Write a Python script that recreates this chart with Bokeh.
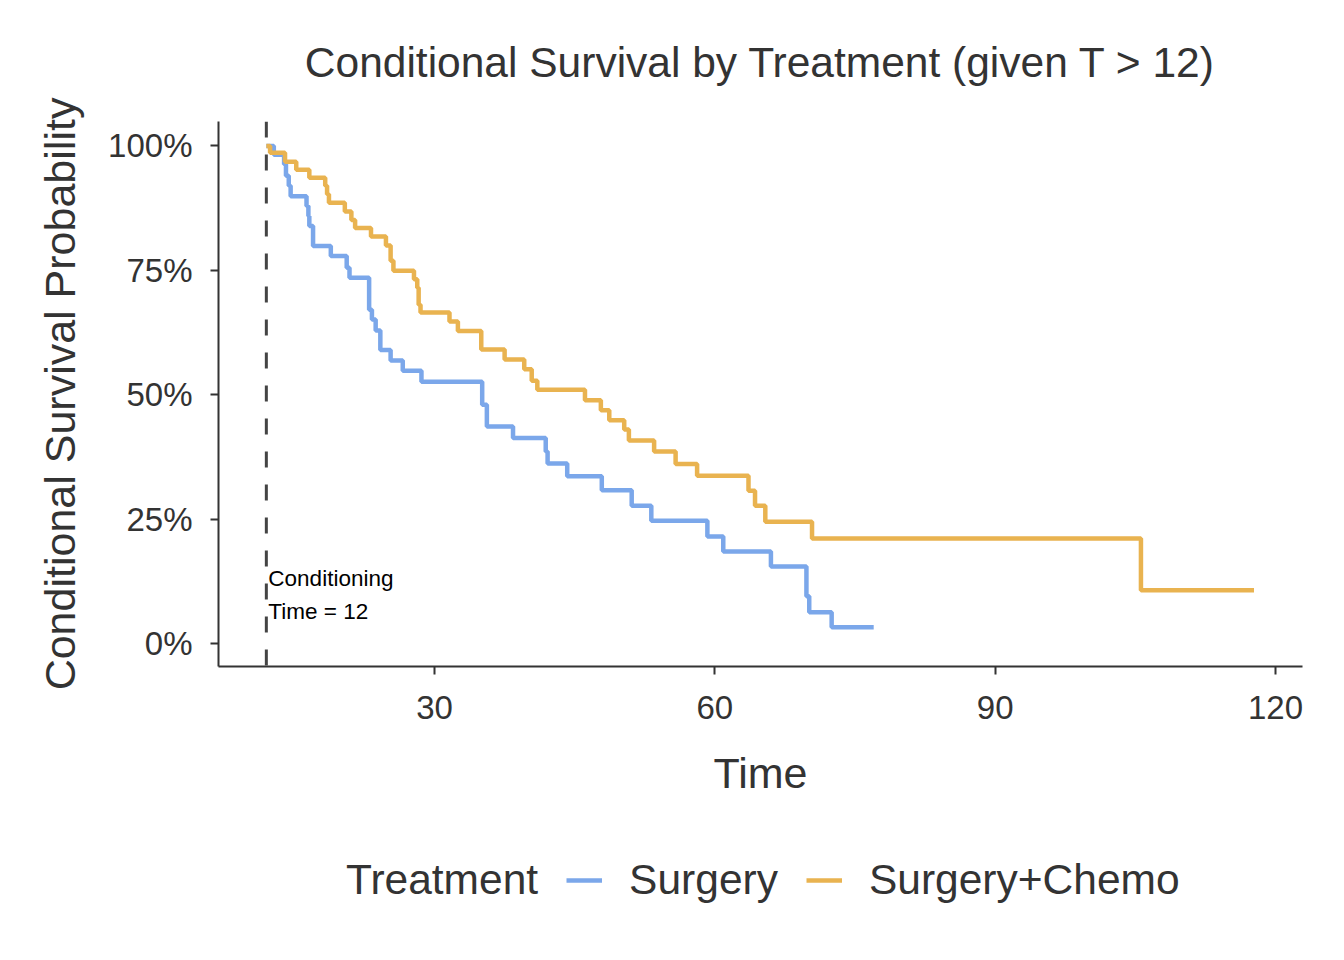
from bokeh.plotting import figure
from bokeh.layouts import column
from bokeh.models import (Range1d, FixedTicker, Span, Legend, LegendItem,
                          ColumnDataSource, Label)
from bokeh.embed import file_html
from bokeh.resources import INLINE

# ---------------- data ----------------
cond_time = 12

surg_times = [12, 12.8, 13.9, 14.1, 14.4, 14.6, 16.3, 16.5, 16.6, 17.0, 18.9,
              20.6, 20.9, 23.0, 23.3, 23.7, 24.2, 25.3, 26.6, 28.6, 35.1,
              35.6, 38.4, 41.9, 42.1, 44.2, 47.9, 51.1, 53.2, 59.2, 60.9,
              66.0, 69.8, 70.1, 72.5, 77.0]
surg_surv = [1.000, 0.982, 0.963, 0.940, 0.920, 0.899, 0.879, 0.859, 0.839,
             0.799, 0.779, 0.755, 0.735, 0.671, 0.651, 0.629, 0.590, 0.569,
             0.548, 0.526, 0.480, 0.436, 0.413, 0.386, 0.362, 0.336, 0.308,
             0.277, 0.247, 0.215, 0.185, 0.155, 0.095, 0.063, 0.033, 0.033]

chemo_times = [12, 12.4, 14.0, 15.2, 16.6, 18.3, 18.5, 18.7, 20.4, 21.1, 21.5,
               23.2, 24.8, 25.3, 25.6, 27.8, 28.15, 28.3, 28.5, 31.6, 32.5,
               35.0, 37.5, 39.6, 40.4, 41.0, 46.1, 47.8, 48.7, 50.3, 50.8,
               53.5, 55.8, 58.1, 63.6, 64.3, 65.4, 70.4, 105.6, 117.7]
chemo_surv = [1.000, 0.986, 0.968, 0.952, 0.936, 0.920, 0.903, 0.886, 0.868,
              0.851, 0.835, 0.818, 0.800, 0.769, 0.749, 0.732, 0.715, 0.681,
              0.665, 0.647, 0.628, 0.591, 0.571, 0.551, 0.528, 0.510, 0.489,
              0.469, 0.449, 0.430, 0.408, 0.386, 0.361, 0.337, 0.307, 0.277,
              0.245, 0.211, 0.107, 0.107]

x_ticks = [30, 60, 90, 120]
y_ticks = [0, 0.25, 0.5, 0.75, 1.0]
y_tick_labels = {0: "0%", 0.25: "25%", 0.5: "50%", 0.75: "75%", 1.0: "100%"}

legend_title = "Treatment"
series_names = ["Surgery", "Surgery+Chemo"]
series_colors = ["#7BA7EA", "#E9B350"]

annot_lines = ["Conditioning", "Time = 12"]
annot_y = [0.131, 0.064]

# ---------------- main figure ----------------
FONT = "Liberation Sans"
TXT = "#333333"
LINE_W = 4.5

p = figure(frame_width=1084, frame_height=545, output_backend="svg",
           toolbar_location=None,
           x_range=Range1d(6.88, 122.89), y_range=Range1d(-0.046, 1.049),
           min_border_left=218, min_border_right=34, min_border_top=120,
           min_border_bottom=140,
           title="Conditional Survival by Treatment (given T > 12)",
           x_axis_label="Time", y_axis_label="Conditional Survival Probability")
p.outline_line_color = None
p.grid.visible = False
p.background_fill_color = "white"
p.border_fill_color = "white"

p.title.text_font = FONT
p.title.text_font_size = "42.5px"
p.title.text_font_style = "normal"
p.title.text_color = TXT
p.title.align = "center"
p.title.standoff = 72

for ax in (p.xaxis[0], p.yaxis[0]):
    ax.axis_line_color = TXT
    ax.axis_line_width = 2
    ax.major_tick_line_color = TXT
    ax.major_tick_line_width = 2
    ax.major_tick_out = 8
    ax.major_tick_in = 0
    ax.minor_tick_line_color = None
    ax.major_label_text_font = FONT
    ax.major_label_text_font_size = "33px"
    ax.major_label_text_color = TXT
    ax.axis_label_text_font = FONT
    ax.axis_label_text_font_size = "43px"
    ax.axis_label_text_font_style = "normal"
    ax.axis_label_text_color = TXT

p.xaxis[0].ticker = FixedTicker(ticks=x_ticks)
p.yaxis[0].ticker = FixedTicker(ticks=y_ticks)
p.yaxis[0].major_label_overrides = y_tick_labels
p.xaxis[0].major_label_standoff = 21
p.yaxis[0].major_label_standoff = 18
p.xaxis[0].axis_label_standoff = 27
p.yaxis[0].axis_label_standoff = 21

# conditioning line
p.add_layout(Span(location=cond_time, dimension="height", line_color="#444444",
                  line_width=3, line_dash="16 17"))

for times, surv, color in [(surg_times, surg_surv, series_colors[0]),
                           (chemo_times, chemo_surv, series_colors[1])]:
    src = ColumnDataSource(dict(t=times, s=surv))
    p.step("t", "s", source=src, mode="after", line_color=color,
           line_width=LINE_W)

for txt, yy in zip(annot_lines, annot_y):
    p.add_layout(Label(x=cond_time, y=yy, x_offset=2, text=txt, text_font=FONT,
                       text_font_size="22.5px", text_color="black",
                       text_align="left", text_baseline="middle"))

# ---------------- legend strip (separate figure below) ----------------
q = figure(frame_width=1084, frame_height=155, output_backend="svg",
           toolbar_location=None,
           x_range=Range1d(0, 1), y_range=Range1d(0, 1),
           x_axis_location=None, y_axis_location=None,
           min_border_left=218, min_border_right=34, min_border_top=0,
           min_border_bottom=0)
q.outline_line_color = None
q.grid.visible = False
q.background_fill_color = "white"
q.border_fill_color = "white"

# key renderers carry only the style; their points lie outside the strip's range
dummy = q.line(x=[-2, -1], y=[-2, -2], line_alpha=0)
keys = [q.line(x=[-2, -1], y=[-2, -2], line_color=c, line_width=LINE_W)
        for c in series_colors]

legend = Legend(items=[LegendItem(label=legend_title, renderers=[dummy]),
                       LegendItem(label=series_names[0], renderers=[keys[0]]),
                       LegendItem(label=series_names[1], renderers=[keys[1]])],
                orientation="horizontal", location=(65, 57))
legend.label_text_font = FONT
legend.label_text_font_size = "42.5px"
legend.label_text_color = TXT
legend.glyph_width = 36
legend.glyph_height = 40
legend.label_standoff = 27
legend.spacing = 28
legend.padding = 0
legend.margin = 0
legend.border_line_color = None
legend.background_fill_alpha = 0
q.add_layout(legend)

open("out.html", "w").write(file_html(column(p, q), INLINE))
